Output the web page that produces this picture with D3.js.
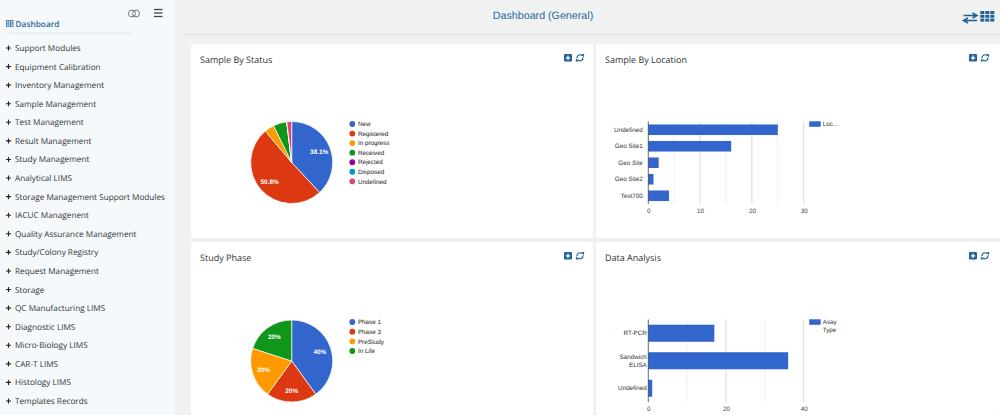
<!DOCTYPE html>
<html>
<head>
<meta charset="utf-8">
<script src="https://d3js.org/d3.v7.min.js"></script>
<style>
html, body { margin: 0; padding: 0; overflow: hidden; background: #f0f1f1; }
text { font-family: "Liberation Sans", Arial, sans-serif; text-rendering: geometricPrecision; }
.ui { font-family: "Open Sans", "Noto Sans", sans-serif; }
</style>
</head>
<body>
<div id="chart"></div>
<script>
// data
const menuItems = ["Support Modules", "Equipment Calibration", "Inventory Management", "Sample Management",
    "Test Management", "Result Management", "Study Management", "Analytical LIMS",
    "Storage Management Support Modules", "IACUC Managenent", "Quality Assurance Management",
    "Study/Colony Registry", "Request Management", "Storage", "QC Manufacturing LIMS", "Diagnostic LIMS",
    "Micro-Biology LIMS", "CAR-T LIMS", "Histology LIMS", "Templates Records"];

const statusNames = ["New", "Registered", "In progress", "Received", "Rejected", "Disposed", "Undefined"];
const statusValues = [24, 32, 2.4, 3.4, 0, 0, 1.2];
const statusColors = ["#3366cc", "#dc3912", "#ff9900", "#109618", "#990099", "#0099c6", "#dd4477"];

const phaseNames = ["Phase 1", "Phase 3", "PreStudy", "In Life"];
const phaseValues = [2, 1, 1, 1];
const phaseColors = ["#3366cc", "#dc3912", "#ff9900", "#109618"];

const locationNames = ["Undefined", "Geo Site1", "Geo Site", "Geo Site2", "Test700"];
const locationValues = [25, 16, 2, 1, 4];
const locationTicks = [0, 10, 20, 30];
const locationMinor = [5, 15, 25];

const assayNames = [["RT-PCR"], ["Sandwich", "ELISA"], ["Undefined"]];
const assayValues = [17, 36, 1];
const assayTicks = [0, 20, 40];
const assayMinor = [10, 30];

const W = 1000, H = 415;
const svg = d3.select("#chart").append("svg").attr("width", W).attr("height", H).style("display", "block");

svg.append("rect").attr("width", W).attr("height", H).attr("fill", "#f0f1f1");

// sidebar
svg.append("rect").attr("width", 175).attr("height", H).attr("fill", "#f5f9fc");
svg.append("line").attr("x1", 9).attr("x2", 132).attr("y1", 33).attr("y2", 33).attr("stroke", "#dfe4e8");

let dashIcon = svg.append("g").attr("fill", "none").attr("stroke", "#2a6a9e").attr("stroke-width", 0.8);
[[6.5, 20.5, 2.5, 2.5], [10.5, 20.5, 2.5, 2.5], [6.5, 24, 2.5, 2.5], [10.5, 24, 2.5, 2.5]].forEach(function(r) {
    dashIcon.append("rect").attr("x", r[0]).attr("y", r[1]).attr("width", r[2]).attr("height", r[3]);
});
svg.append("text").attr("class", "ui").attr("x", 15.5).attr("y", 26.5).text("Dashboard")
    .style("font-size", "8.3px").style("font-weight", 600).attr("fill", "#2a6a9e");

// toggle + hamburger
svg.append("circle").attr("cx", 132).attr("cy", 13.5).attr("r", 3.5).attr("fill", "none").attr("stroke", "#666").attr("stroke-width", 0.9);
svg.append("circle").attr("cx", 136).attr("cy", 13.5).attr("r", 3.5).attr("fill", "none").attr("stroke", "#666").attr("stroke-width", 0.9);
[9.5, 13, 16.5].forEach(function(y) {
    svg.append("line").attr("x1", 154).attr("x2", 162.5).attr("y1", y).attr("y2", y).attr("stroke", "#444").attr("stroke-width", 1.3);
});

let menuY = d3.scalePoint().domain(menuItems).range([48, 401]);
let menu = svg.selectAll("g.menu").data(menuItems).enter().append("g").attr("class", "menu")
    .attr("transform", function(d) { return "translate(0," + menuY(d) + ")"; });
menu.append("path").attr("d", "M6,0H11M8.5,-2.5V2.5").attr("stroke", "#222").attr("stroke-width", 1.1);
menu.append("text").attr("class", "ui").attr("x", 15).attr("y", 3).text(function(d) { return d; })
    .style("font-size", "8.2px").attr("fill", "#333");

// header
svg.append("line").attr("x1", 183).attr("x2", W).attr("y1", 34.5).attr("y2", 34.5).attr("stroke", "#dfe0df");
svg.append("text").attr("x", 543).attr("y", 19).attr("text-anchor", "middle").text("Dashboard (General)")
    .style("font-size", "10.7px").attr("fill", "#2a6a9e");

// swap arrows and grid icon
svg.append("path").attr("d", "M963.5,15.5H976M972.5,13L977,15.5L972.5,18M977,20.5H964.5M968,18L963.5,20.5L968,23")
    .attr("fill", "none").attr("stroke", "#1f6296").attr("stroke-width", 1.6);
d3.range(3).forEach(function(r) {
    d3.range(3).forEach(function(c) {
        svg.append("rect").attr("x", 980.3 + c * 5).attr("y", 11 + r * 3.8).attr("width", 4).attr("height", 3).attr("fill", "#1f6296");
    });
});

// panels
function panel(x, y, w, h, title) {
    svg.append("rect").attr("x", x).attr("y", y).attr("width", w).attr("height", h).attr("rx", 2).attr("fill", "#fff");
    svg.append("text").attr("class", "ui").attr("x", x + 9).attr("y", y + 18.5).text(title)
        .style("font-size", "9px").style("font-weight", 500).attr("fill", "#333");
    let ix = x + 373, iy = y + 10;
    svg.append("rect").attr("x", ix).attr("y", iy).attr("width", 8).attr("height", 7.6).attr("rx", 1.3).attr("fill", "#1f6296");
    svg.append("path").attr("d", "M" + (ix + 1.8) + "," + (iy + 3.8) + "h4.4M" + (ix + 4) + "," + (iy + 1.6) + "v4.4")
        .attr("stroke", "#fff").attr("stroke-width", 1.2);
    // refresh icon: two arcs with arrow heads
    let cx = ix + 16, cy = iy + 3.8;
    let g = svg.append("g").attr("transform", "translate(" + cx + "," + cy + ")").attr("fill", "#1f6296");
    g.append("path").attr("d", d3.arc()({innerRadius: 2.4, outerRadius: 3.6, startAngle: -1.7, endAngle: 0.9}));
    g.append("path").attr("d", d3.arc()({innerRadius: 2.4, outerRadius: 3.6, startAngle: 1.44, endAngle: 4.04}));
    g.append("path").attr("d", "M1.6,-3.6L4,-0.4L4.2,-3.8Z");
    g.append("path").attr("d", "M-1.6,3.6L-4,0.4L-4.2,3.8Z");
}
panel(191, 44, 402, 194, "Sample By Status");
panel(596, 44, 404, 194, "Sample By Location");
panel(191, 242, 402, 173, "Study Phase");
panel(596, 242, 404, 173, "Data Analysis");

// pie charts
function drawPie(names, values, colors, cx, cy, r, legX, legY, legStep) {
    let total = d3.sum(values);
    let pie = d3.pie().sort(null)(values);
    let arc = d3.arc().innerRadius(0).outerRadius(r);
    let labelArc = d3.arc().innerRadius(r * 0.72).outerRadius(r * 0.72);
    let g = svg.append("g").attr("transform", "translate(" + cx + "," + cy + ")");
    g.selectAll("path").data(pie).enter().append("path")
        .attr("d", arc).attr("fill", function(d, i) { return colors[i]; })
        .attr("stroke", "#fff").attr("stroke-width", 0.7);
    g.selectAll("text").data(pie.filter(function(d) { return d.value / total > 0.1; })).enter().append("text")
        .attr("transform", function(d) { return "translate(" + labelArc.centroid(d) + ")"; })
        .attr("text-anchor", "middle").attr("dy", "0.35em")
        .style("font-size", "6.4px").style("font-weight", "bold").attr("fill", "#fff")
        .text(function(d) {
            let p = d.value / total * 100;
            return (Number.isInteger(p) ? p : p.toFixed(1)) + "%";
        });
    let leg = svg.selectAll(null).data(names).enter().append("g")
        .attr("transform", function(d, i) { return "translate(" + legX + "," + (legY + i * legStep) + ")"; });
    leg.append("circle").attr("r", 2.9).attr("fill", function(d, i) { return colors[i]; });
    leg.append("text").attr("x", 5.6).attr("dy", "0.35em").text(function(d) { return d; })
        .style("font-size", "6.3px").attr("fill", "#222");
}
drawPie(statusNames, statusValues, statusColors, 291.7, 162.5, 41, 352.3, 124, 9.55);
drawPie(phaseNames, phaseValues, phaseColors, 291.7, 361, 41, 352.3, 322, 9.67);

// bar charts
function drawBars(names, values, ticks, minor, x0, x1, y0, y1, barPad, labelGap, legendLines) {
    let x = d3.scaleLinear().domain([0, d3.max(ticks)]).range([x0, x1]);
    let y = d3.scaleBand().domain(d3.range(names.length)).range([y0, y1]).paddingInner(barPad).paddingOuter(barPad / 2);
    let g = svg.append("g");
    g.selectAll("line.minor").data(minor).enter().append("line").attr("class", "minor")
        .attr("x1", x).attr("x2", x).attr("y1", y0).attr("y2", y1).attr("stroke", "#f0f0f0");
    g.selectAll("line.major").data(ticks.slice(1)).enter().append("line").attr("class", "major")
        .attr("x1", x).attr("x2", x).attr("y1", y0).attr("y2", y1).attr("stroke", "#d8d8d8");
    g.selectAll("rect").data(values).enter().append("rect")
        .attr("x", x(0)).attr("y", function(d, i) { return y(i); })
        .attr("width", function(d) { return x(d) - x(0); }).attr("height", y.bandwidth())
        .attr("fill", "#3366cc");
    g.append("line").attr("x1", x(0)).attr("x2", x(0)).attr("y1", y0).attr("y2", y1).attr("stroke", "#444").attr("stroke-width", 0.8);

    let axis = d3.axisBottom(x).tickValues(ticks).tickSize(0).tickPadding(0);
    let ax = g.append("g").attr("transform", "translate(0," + (y1 + 4.5) + ")").call(axis);
    ax.select(".domain").remove();
    ax.selectAll("text").style("font-size", "6.3px").attr("fill", "#444").attr("dy", "0.71em");

    names.forEach(function(n, i) {
        let lines = Array.isArray(n) ? n : [n];
        let yc = y(i) + y.bandwidth() / 2;
        lines.forEach(function(l, j) {
            g.append("text").attr("x", x0 - labelGap).attr("y", yc + (j - (lines.length - 1) / 2) * 7.5)
                .attr("dy", "0.35em").attr("text-anchor", "end").text(l)
                .style("font-size", "6.3px").attr("fill", "#333");
        });
    });

    let lx = x1 + 5.5;
    g.append("rect").attr("x", lx).attr("y", y0 - 0.2).attr("width", 11.5).attr("height", 5.5).attr("fill", "#3366cc");
    legendLines.forEach(function(l, j) {
        g.append("text").attr("x", lx + 13.5).attr("y", y0 + 2.5 + j * 7.5).attr("dy", "0.35em").text(l)
            .style("font-size", "6.3px").attr("fill", "#333");
    });
}
drawBars(locationNames, locationValues, locationTicks, locationMinor, 648.3, 803.7, 121.5, 204, 0.36, 5.5, ["Loc..."]);
drawBars(assayNames, assayValues, assayTicks, assayMinor, 648.3, 803.7, 319.5, 402, 0.38, 1.5, ["Asay", "Type"]);
</script>
</body>
</html>
